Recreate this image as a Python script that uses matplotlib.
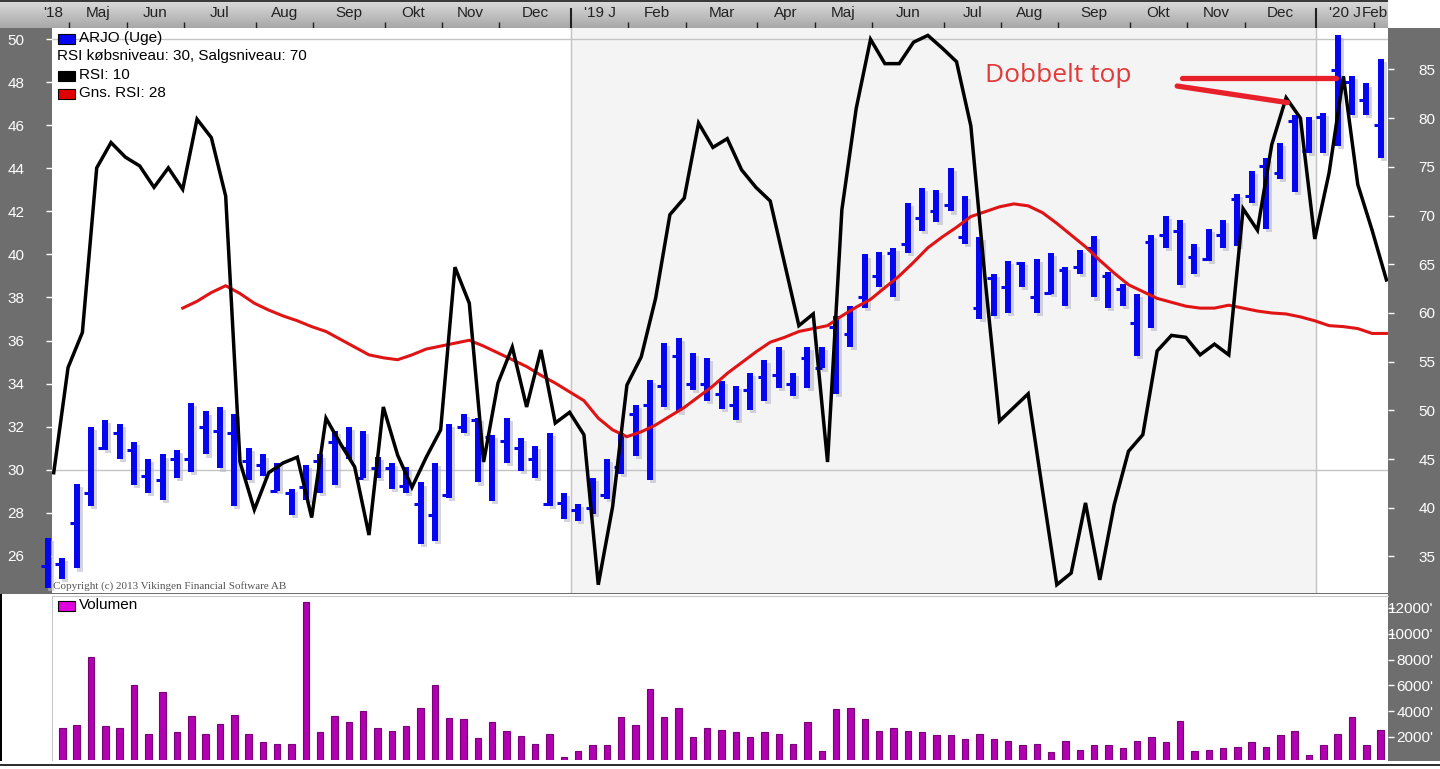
import matplotlib
matplotlib.use("Agg")
from matplotlib import pyplot as plt
from matplotlib.patches import Rectangle
from matplotlib.colors import LinearSegmentedColormap
import matplotlib.patheffects as pe
import numpy as np

W, H, DPI = 1440, 769, 100

# weekly bars for ARJO, one value per week (index 0 = first week shown)
HIGH = [26.8, 25.9, 29.35, 32.0, 32.3, 32.1, 31.3, 30.5, 30.7, 30.9,
        33.1, 32.7, 32.9, 32.6, 31.0, 30.7, 30.3, 29.1, 30.2, 30.7,
        31.8, 32.0, 31.8, 30.6, 30.3, 30.1, 29.4, 30.3, 32.1, 32.6,
        32.4, 31.6, 32.4, 31.45, 31.1, 31.7, 28.9, 28.4, 29.6, 30.5,
        31.7, 33.0, 34.15, 35.9, 36.1, 35.4, 35.2, 34.1, 33.9, 34.5,
        35.1, 35.7, 34.5, 35.7, 35.7, 37.15, 37.6, 40.0, 40.1, 40.3,
        42.4, 43.1, 43.0, 44.0, 42.7, 40.8, 39.1, 39.7, 39.65, 39.8,
        40.05, 39.4, 40.2, 40.85, 39.2, 38.65, 38.15, 40.9, 41.8, 41.6,
        40.5, 41.2, 41.6, 42.8, 43.9, 44.5, 45.2, 46.5, 46.4, 46.6,
        50.2, 48.3, 47.95, 49.1]
LOW = [24.5, 24.9, 25.4, 28.3, 30.9, 30.5, 29.3, 28.9, 28.6, 29.6,
       29.9, 30.7, 30.05, 28.3, 29.5, 29.7, 29.0, 27.9, 28.6, 28.9,
       29.3, 30.5, 29.6, 29.6, 29.1, 28.9, 26.55, 26.7, 28.7, 31.7,
       29.4, 28.55, 30.3, 29.95, 29.6, 28.3, 27.7, 27.6, 27.95, 28.65,
       29.8, 30.65, 29.5, 32.9, 32.7, 33.7, 33.2, 32.8, 32.3, 32.75,
       33.2, 33.8, 33.4, 33.8, 34.7, 33.5, 35.7, 37.5, 38.5, 38.0,
       40.05, 41.1, 41.5, 42.0, 40.5, 37.0, 37.15, 37.3, 38.5, 37.3,
       38.15, 37.6, 39.1, 38.0, 37.5, 37.6, 35.3, 36.6, 40.3, 38.6,
       39.1, 39.7, 40.3, 40.4, 42.4, 41.2, 43.5, 42.9, 44.7, 44.7,
       45.05, 46.5, 46.5, 44.5]
CLOSE = [25.5, 25.6, 27.5, 28.9, 31.0, 31.7, 30.9, 29.7, 29.5, 30.5,
         30.5, 32.0, 31.8, 31.7, 30.4, 30.2, 29.0, 28.9, 29.2, 30.4,
         31.3, 31.0, 29.6, 30.05, 30.05, 29.25, 28.4, 27.9, 28.8, 32.0,
         32.3, 31.5, 31.35, 31.0, 30.5, 28.4, 28.45, 28.1, 28.2, 28.8,
         30.1, 32.6, 33.0, 33.9, 35.3, 34.0, 34.0, 33.5, 33.0, 33.7,
         34.3, 34.4, 34.0, 35.2, 34.7, 36.65, 36.3, 38.0, 39.0, 40.05,
         40.5, 41.7, 42.0, 42.3, 40.8, 37.5, 38.9, 38.5, 39.6, 38.0,
         38.2, 39.3, 39.4, 40.3, 39.0, 38.4, 36.8, 40.6, 40.9, 41.1,
         39.9, 39.8, 40.9, 42.6, 42.7, 44.1, 43.8, 46.2, 44.8, 46.4,
         48.6, 48.0, 47.2, 46.0]

# RSI(10) and its 28 week average (right axis)
RSI = [43.6, 54.4, 58.0, 74.9, 77.5, 76.0, 75.1, 72.9, 74.9, 72.7,
       79.9, 78.0, 72.0, 44.7, 39.8, 43.6, 44.6, 45.2, 39.0, 49.2,
       46.6, 44.2, 37.2, 50.35, 45.4, 42.1, 45.2, 48.0, 64.7, 61.0,
       44.7, 52.8, 56.5, 50.35, 56.2, 48.7, 49.8, 47.5, 32.1, 40.1,
       52.6, 55.5, 61.5, 70.1, 71.8, 79.5, 77.0, 77.9, 74.7, 72.9,
       71.5, 65.1, 58.7, 59.9, 44.7, 70.6, 81.0, 88.1, 85.6, 85.6,
       87.8, 88.5, 87.2, 85.8, 79.2, 63.4, 48.9, 50.3, 51.7, 41.8,
       32.1, 33.3, 40.5, 32.6, 40.3, 45.8, 47.5, 56.1, 57.7, 57.5,
       55.7, 56.8, 55.7, 70.7, 68.5, 77.3, 82.1, 80.0, 67.6, 74.4,
       84.3, 73.2, 68.5, 63.4]
AVG_RSI = [np.nan] * 9 + [
    60.5, 61.2, 62.1, 62.8, 62.0, 61.0, 60.3, 59.7, 59.2, 58.6,
    58.1, 57.3, 56.5, 55.7, 55.4, 55.2, 55.7, 56.3, 56.6, 56.9,
    57.2, 56.6, 55.9, 55.2, 54.5, 53.6, 52.8, 51.9, 51.0, 49.2,
    48.0, 47.3, 47.8, 48.5, 49.4, 50.3, 51.4, 52.5, 53.8, 54.9,
    56.0, 57.0, 57.5, 58.1, 58.4, 58.7, 59.7, 60.6, 61.4, 62.6,
    63.8, 65.2, 66.7, 67.8, 68.8, 69.9, 70.4, 70.9, 71.2, 71.0,
    70.3, 69.2, 68.0, 66.8, 65.4, 64.1, 62.9, 62.2, 61.5, 61.1,
    60.7, 60.5, 60.5, 60.8, 60.5, 60.2, 60.0, 59.9, 59.6, 59.2,
    58.7, 58.6, 58.4, 57.9, 57.9]

VOLUME = [3720, 2690, 2945, 8240, 2815, 2690, 6045, 2250, 5480, 2380,
          3590, 2250, 3020, 3700, 2250, 1575, 1470, 1470, 12460, 2380,
          3590, 3150, 4030, 2690, 2480, 2815, 4260, 6020, 3460, 3390,
          1915, 3150, 2480, 2040, 1470, 2250, 440, 930, 1370, 1370,
          3565, 2920, 5710, 3565, 4240, 2015, 2690, 2580, 2380, 2015,
          2380, 2250, 1470, 3150, 930, 4160, 4240, 3360, 2480, 2690,
          2480, 2380, 2145, 2145, 1810, 2250, 1810, 1705, 1370, 1470,
          800, 1705, 1030, 1370, 1370, 1140, 1705, 2015, 1600, 3255,
          930, 1030, 1140, 1240, 1600, 1240, 2145, 2480, 595, 1370,
          2250, 3565, 1370, 2580]

PRICE_TICKS = list(range(26, 51, 2))
RSI_TICKS = list(range(35, 90, 5))
VOL_TICKS = list(range(2000, 12001, 2000))
PRICE_LEVELS = [30, 50]

# month axis in the header (positions in week index)
MONTH_LABELS = ["'18", "Maj", "Jun", "Jul", "Aug", "Sep", "Okt", "Nov", "Dec",
                "'19 J", "Feb", "Mar", "Apr", "Maj", "Jun", "Jul", "Aug", "Sep",
                "Okt", "Nov", "Dec", "'20 J", "Feb"]
MONTH_LABEL_POS = [0.35, 3.5, 7.5, 12, 16.5, 21, 25.5, 29.5, 34,
                   38.5, 42.5, 47, 51.5, 55.5, 60, 64.5, 68.5, 73,
                   77.5, 81.5, 86, 90.5, 92.6]
MONTH_TICKS = [1.5, 5.5, 9.5, 14.5, 18.5, 23.5, 27.5, 31.5, 40.5, 44.5, 49.5,
               53.5, 57.5, 62.5, 66.5, 70.5, 75.5, 79.5, 83.5, 92.5]
YEAR_STARTS = [36.5, 88.5]

# hand drawn "double top" note (week index, RSI value)
NOTE_TEXT = "Dobbelt top"
NOTE_POS = (70.5, 84.4)
NOTE_LINES = [((79.1, 89.9), (84.1, 84.1)),
              ((78.8, 86.5), (83.3, 81.6))]

BAND = "#6e6e6e"
BLUE = "#0505f0"
RED = "#e01414"
MAGENTA = "#b000b0"

XMIN, XMAX = 0.28, 93.51
plt.rcParams['font.family'] = ['Liberation Sans', 'DejaVu Sans']


def fig_rect(x0, y0, x1, y1):
    """pixel box (origin top left) -> figure fraction [l, b, w, h]"""
    return [x0 / W, 1 - y1 / H, (x1 - x0) / W, (y1 - y0) / H]


def add_box(fig, x0, y0, x1, y1, color, edge="none", lw=0, z=-1):
    l, b, w, h = fig_rect(x0, y0, x1, y1)
    fig.add_artist(Rectangle((l, b), w, h, transform=fig.transFigure,
                             facecolor=color, edgecolor=edge, lw=lw, zorder=z))


def legend_item(fig, y, label, color=None):
    if color is not None:
        add_box(fig, 58, y - 4, 75, y + 6, color, edge="black", lw=0.8, z=6)
        x = 79
    else:
        x = 57
    fig.text(x / W, 1 - y / H, label, fontsize=11, color="black",
             ha="left", va="center", zorder=7)


fig = plt.figure(figsize=(W / DPI, H / DPI), dpi=DPI, facecolor=BAND)
idx = np.arange(len(HIGH))

# background pieces around the panels
add_box(fig, 1388, 0, 1440, 28, "white")
add_box(fig, 0, 594, 1388, 769, "white")
add_box(fig, 0, 594, 1.5, 765, "black")
add_box(fig, 0, 761, 1440, 769, "white")
add_box(fig, 0, 763.5, 1440, 765.5, "#303030")
add_box(fig, 0, 0, 1388, 2, "#3a3a3a", z=2)

# header with months
axh = fig.add_axes(fig_rect(0, 2, 1388, 28))
hx0 = XMIN - 52 / 14.33
cmap = LinearSegmentedColormap.from_list("hdr", ["#d8d8d8", "#a8a8a8"])
axh.imshow(np.linspace(0, 1, 40).reshape(-1, 1), cmap=cmap, aspect="auto",
           extent=(hx0, XMAX, 0, 1), origin="upper")
axh.set_xlim(hx0, XMAX)
axh.set_ylim(0, 1)
axh.vlines(MONTH_TICKS, 0, 0.24, colors="#202020", lw=1)
axh.vlines(YEAR_STARTS, 0, 0.78, colors="#202020", lw=1.5)
for lab, pos in zip(MONTH_LABELS, MONTH_LABEL_POS):
    axh.text(pos, 0.58, lab, ha="center", va="center", fontsize=11, color="#222222")
axh.axis("off")

# price panel
ax = fig.add_axes(fig_rect(52, 28, 1388, 593))
ax.set_facecolor("white")
ax.axvspan(YEAR_STARTS[0], YEAR_STARTS[1], color="#f4f4f4", zorder=0)
for yr in YEAR_STARTS:
    ax.axvline(yr, color="#c4c4c4", lw=1, zorder=1)
for lvl in PRICE_LEVELS:
    ax.axhline(lvl, color="#c4c4c4", lw=1, zorder=1)

shadow = [pe.SimpleLineShadow(offset=(2.2, -2.2), shadow_color="#b8b8c8", alpha=0.6), pe.Normal()]
bars = ax.vlines(idx, LOW, HIGH, colors=BLUE, lw=4.3, zorder=3, clip_on=False)
bars.set_path_effects(shadow)
ticks = ax.hlines(CLOSE, idx - 0.48, idx, colors=BLUE, lw=2.2, zorder=3, clip_on=False)

ax.set_xlim(XMIN, XMAX)
ax.set_ylim(24.26, 50.53)
ax.set_yticks(PRICE_TICKS)
ax.tick_params(axis="y", left=True, right=False, length=4, width=1, color="white",
               labelcolor="white", labelsize=11, pad=16)
ax.tick_params(axis="x", bottom=False, labelbottom=False)
for s in ax.spines.values():
    s.set_visible(False)

# RSI on the right axis
ax2 = ax.twinx()
ax2.plot(idx + 0.4, AVG_RSI, color=RED, lw=2.2, zorder=4)
ax2.plot(idx + 0.4, RSI, color="black", lw=2.5, solid_joinstyle="miter", zorder=5)
for xs, ys in NOTE_LINES:
    ax2.plot(xs, ys, color="#e8202a", lw=3.8, solid_capstyle="round", zorder=6)
ax2.text(NOTE_POS[0], NOTE_POS[1], NOTE_TEXT, ha="center", va="center",
         fontsize=19, color="#e23a3a", family=["Open Sans", "DejaVu Sans"], zorder=6)
ax2.set_xlim(XMIN, XMAX)
ax2.set_ylim(31.25, 89.26)
ax2.set_yticks(RSI_TICKS)
ax2.tick_params(axis="y", right=True, left=False, length=4, width=1, color="white",
                labelcolor="white", labelsize=11, pad=30)
for lab in ax2.get_yticklabels():
    lab.set_horizontalalignment("right")
for s in ax2.spines.values():
    s.set_visible(False)

# volume panel
axv = fig.add_axes(fig_rect(52, 596, 1388, 760))
axv.set_facecolor("white")
axv.bar(idx, VOLUME, width=0.45, color=MAGENTA, edgecolor="#7a007a", lw=0.8)
axv.set_xlim(XMIN, XMAX)
axv.set_ylim(217, 12930)
axv.yaxis.tick_right()
axv.set_yticks(VOL_TICKS)
axv.set_yticklabels([f"{v}'" for v in VOL_TICKS])
axv.tick_params(axis="y", right=True, left=False, length=4, width=1, color="white",
                labelcolor="white", labelsize=11, pad=28.5)
for lab in axv.get_yticklabels():
    lab.set_horizontalalignment("right")
axv.tick_params(axis="x", bottom=False, labelbottom=False)
for side, s in axv.spines.items():
    s.set_visible(side in ("left", "top"))
    s.set_color("#c8c8c8")
add_box(fig, 1388, 596, 1440, 761, BAND, z=-0.5)

# legends
legend_item(fig, 38, "ARJO (Uge)", BLUE)
legend_item(fig, 56, "RSI købsniveau: 30, Salgsniveau: 70")
legend_item(fig, 75, "RSI: 10", "black")
legend_item(fig, 93, "Gns. RSI: 28", "#e00000")
legend_item(fig, 605, "Volumen", "#e000e0")

fig.text(53 / W, 1 - 591 / H, "Copyright (c) 2013 Vikingen Financial Software AB",
         family=["Liberation Serif", "DejaVu Serif"], fontsize=8, color="#555555",
         ha="left", va="bottom", zorder=7)

fig.savefig("out.png", dpi=DPI, facecolor=fig.get_facecolor())
